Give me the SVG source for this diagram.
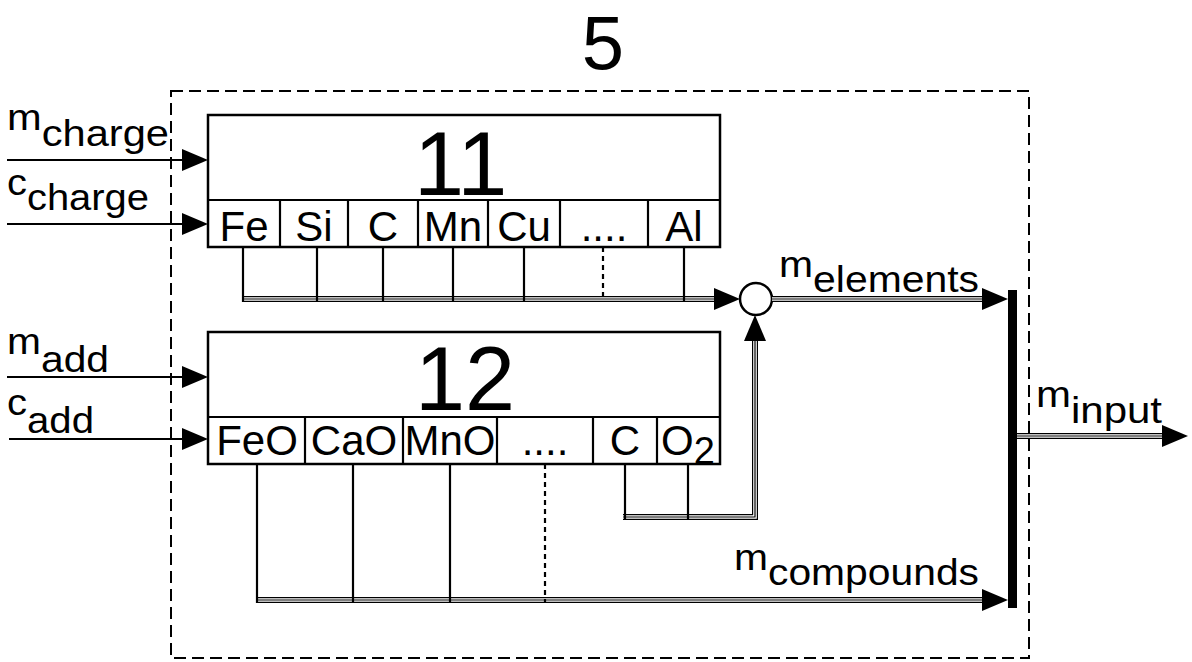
<svg xmlns="http://www.w3.org/2000/svg" xmlns:xlink="http://www.w3.org/1999/xlink" width="1192" height="662" viewBox="0 0 1192 662">
<style>
text{font-family:"Liberation Sans",Arial,sans-serif;fill:#000}
.lbl{font-size:37px}
.cell{font-size:42px;text-anchor:middle}
.big{font-size:90px}
.box{fill:#fff;stroke:#000;stroke-width:2.5}
.ln{stroke:#000;stroke-width:2.2;fill:none}
.dl{stroke:#000;stroke-width:2.2;fill:none;stroke-dasharray:5 4}
.b1{stroke:#000;stroke-width:6;fill:none}
.b2{stroke:#fff;stroke-width:3.6;fill:none}
.b3{stroke:#000;stroke-width:1.2;fill:none}
</style>
<defs>
<path id="ah" d="M0,0 L-26,-11 L-26,11 Z" fill="#000"/>
<path id="bus1" d="M243,299 H716"/>
<path id="bus2" d="M772,299 H984"/>
<path id="bus3" d="M623,517 H755 V341"/>
<path id="bus4" d="M257,600 H984"/>
<path id="bus5" d="M1017,436 H1164"/>
</defs>

<rect x="0" y="0" width="1192" height="662" fill="#fff"/>

<g id="frame5">
<rect x="171" y="91" width="858" height="567" fill="none" stroke="#000" stroke-width="2" stroke-dasharray="12 6"/>
<text x="603" y="69" font-size="76" text-anchor="middle">5</text>
</g>

<g id="node11">
<rect class="box" x="208" y="115" width="512" height="132"/>
<line class="ln" x1="208" y1="200" x2="720" y2="200"/>
<line class="ln" x1="280" y1="200" x2="280" y2="247"/>
<line class="ln" x1="348" y1="200" x2="348" y2="247"/>
<line class="ln" x1="418" y1="200" x2="418" y2="247"/>
<line class="ln" x1="488" y1="200" x2="488" y2="247"/>
<line class="ln" x1="560" y1="200" x2="560" y2="247"/>
<line class="ln" x1="648" y1="200" x2="648" y2="247"/>
<text class="big" x="414" y="195">11</text>
<text class="cell" x="244" y="241">Fe</text>
<text class="cell" x="314" y="241">Si</text>
<text class="cell" x="383" y="241">C</text>
<text class="cell" x="453" y="241">Mn</text>
<text class="cell" x="524" y="241">Cu</text>
<text class="cell" x="604" y="241">....</text>
<text class="cell" x="684" y="241">Al</text>
</g>

<g id="node12">
<rect class="box" x="208" y="332" width="512" height="132"/>
<line class="ln" x1="208" y1="417" x2="720" y2="417"/>
<line class="ln" x1="305" y1="417" x2="305" y2="464"/>
<line class="ln" x1="403" y1="417" x2="403" y2="464"/>
<line class="ln" x1="497" y1="417" x2="497" y2="464"/>
<line class="ln" x1="593" y1="417" x2="593" y2="464"/>
<line class="ln" x1="657" y1="417" x2="657" y2="464"/>
<text class="big" x="415" y="410">12</text>
<text class="cell" x="257" y="455">FeO</text>
<text class="cell" x="354" y="455">CaO</text>
<text class="cell" x="450" y="455">MnO</text>
<text class="cell" x="545" y="455">....</text>
<text class="cell" x="625" y="455">C</text>
<text x="661" y="455" font-size="42">O<tspan font-size="38" dy="9">2</tspan></text>
</g>

<g id="sum">
<circle cx="756" cy="299" r="16" fill="#fff" stroke="#000" stroke-width="2.5"/>
</g>

<g id="mixer">
<rect x="1008" y="290" width="9" height="318" fill="#000"/>
</g>

<g id="connectors">
<line class="ln" x1="7" y1="160" x2="186" y2="160"/>
<use xlink:href="#ah" transform="translate(208,160)"/>
<line class="ln" x1="7" y1="224" x2="186" y2="224"/>
<use xlink:href="#ah" transform="translate(208,224)"/>
<line class="ln" x1="7" y1="377" x2="186" y2="377"/>
<use xlink:href="#ah" transform="translate(208,377)"/>
<line class="ln" x1="9" y1="439" x2="186" y2="439"/>
<use xlink:href="#ah" transform="translate(208,439)"/>

<use xlink:href="#bus1" class="b1"/><use xlink:href="#bus1" class="b2"/><use xlink:href="#bus1" class="b3"/>
<use xlink:href="#bus2" class="b1"/><use xlink:href="#bus2" class="b2"/><use xlink:href="#bus2" class="b3"/>
<use xlink:href="#bus3" class="b1"/><use xlink:href="#bus3" class="b2"/><use xlink:href="#bus3" class="b3"/>
<use xlink:href="#bus4" class="b1"/><use xlink:href="#bus4" class="b2"/><use xlink:href="#bus4" class="b3"/>
<use xlink:href="#bus5" class="b1"/><use xlink:href="#bus5" class="b2"/><use xlink:href="#bus5" class="b3"/>
<use xlink:href="#ah" transform="translate(740,299)"/>
<use xlink:href="#ah" transform="translate(1008,299)"/>
<use xlink:href="#ah" transform="translate(755,315) rotate(-90)"/>
<use xlink:href="#ah" transform="translate(1008,600)"/>
<use xlink:href="#ah" transform="translate(1188,436)"/>

<line class="ln" x1="243" y1="247" x2="243" y2="302"/>
<line class="ln" x1="317" y1="247" x2="317" y2="302"/>
<line class="ln" x1="383" y1="247" x2="383" y2="302"/>
<line class="ln" x1="453" y1="247" x2="453" y2="302"/>
<line class="ln" x1="524" y1="247" x2="524" y2="302"/>
<line class="dl" x1="603" y1="247" x2="603" y2="302"/>
<line class="ln" x1="684" y1="247" x2="684" y2="302"/>

<line class="ln" x1="257" y1="464" x2="257" y2="603"/>
<line class="ln" x1="353" y1="464" x2="353" y2="603"/>
<line class="ln" x1="450" y1="464" x2="450" y2="603"/>
<line class="dl" x1="545" y1="464" x2="545" y2="603"/>
<line class="ln" x1="625" y1="464" x2="625" y2="520"/>
<line class="ln" x1="688" y1="464" x2="688" y2="520"/>
</g>

<g id="labels">
<text class="lbl" x="7" y="130" textLength="162" lengthAdjust="spacingAndGlyphs">m<tspan dy="16">charge</tspan></text>
<text class="lbl" x="7" y="195" textLength="142" lengthAdjust="spacingAndGlyphs">c<tspan dy="15">charge</tspan></text>
<text class="lbl" x="7" y="354" textLength="102" lengthAdjust="spacingAndGlyphs">m<tspan dy="18">add</tspan></text>
<text class="lbl" x="7" y="415" textLength="87" lengthAdjust="spacingAndGlyphs">c<tspan dy="18">add</tspan></text>
<text class="lbl" x="779" y="277" textLength="200" lengthAdjust="spacingAndGlyphs">m<tspan dy="15">elements</tspan></text>
<text class="lbl" x="734" y="570" textLength="245" lengthAdjust="spacingAndGlyphs">m<tspan dy="15">compounds</tspan></text>
<text class="lbl" x="1036" y="407" textLength="126" lengthAdjust="spacingAndGlyphs">m<tspan dy="16">input</tspan></text>
</g>
</svg>
